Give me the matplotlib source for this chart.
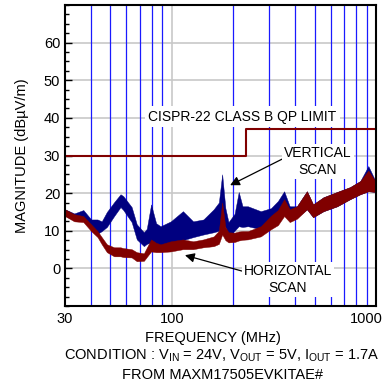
import numpy as np
import matplotlib.pyplot as plt
from matplotlib.ticker import MultipleLocator, FixedLocator, NullFormatter
from matplotlib.transforms import ScaledTranslation

plt.rcParams['font.family'] = ['Liberation Sans', 'DejaVu Sans']
plt.rcParams['font.size'] = 10

# frequency points (MHz), envelope of the noisy traces
freq = [30, 33.3, 36.9, 40.3, 43.3, 45.4, 48.1, 52.2, 56.1, 57.9, 63.6, 67.4,
        73.0, 75.4, 79.2, 83.8, 88.1, 98.9, 113.4, 127.2, 142.8, 160.4, 170,
        176.5, 183, 189.5, 203, 212.7, 222, 236, 272.7, 306, 331, 355, 378,
        410, 459, 492, 553, 645, 747, 837, 917, 1000]

vert_hi = [15.7, 14.6, 15.5, 13, 13, 12.5, 15, 17.6, 19.7, 19.2, 16.3, 11.7,
           9.6, 10.5, 17, 12, 11.2, 12.5, 15.2, 12.5, 13, 15.7, 17.5,
           25, 16, 12.3, 14.5, 20.3, 16.5, 16.5, 15.2, 16, 17.9, 20.5, 16.5,
           16.5, 20.5, 17, 18.9, 20.3, 21.6, 23.2, 27.2, 22.9]
vert_lo = [14, 12.8, 12.5, 11.2, 9.2, 9.9, 11, 13.9, 16.3, 15.5, 12.3, 7.7,
           5.9, 6.5, 6.9, 6.5, 5.9, 6.9, 7.5, 8.3, 9, 9.6, 10,
           12, 11, 8.5, 10, 11.2, 11, 11.2, 10.4, 12, 12.5, 14.5, 13,
           13.5, 15.7, 13.6, 15.2, 16.5, 18.4, 19.7, 20.5, 20.3]

horz_hi = [15.7, 14.4, 13.9, 11.7, 9.9, 8.3, 6.4, 5.6, 5.6, 5.4, 5.1, 4.3,
           4, 5.5, 7.7, 6.8, 6.4, 7.2, 7.7, 7.2, 7.7, 8.5, 10,
           17.5, 11, 9.6, 9.5, 9.8, 9.9, 9.9, 11.2, 14, 15.5, 18.4, 15.7,
           16.5, 20.5, 17, 18.9, 20.3, 21.6, 23.2, 26, 22.9]
horz_lo = [13.9, 12.5, 12.3, 9.9, 8.3, 6.4, 4.3, 3.2, 3.2, 3, 2.9, 1.9,
           2, 3, 4.5, 4.3, 4.3, 4.5, 5.1, 5.1, 5.6, 5.9, 6.5,
           9, 7.5, 6.9, 7, 7.4, 7.6, 7.7, 8.5, 10.4, 11.5, 13.9, 12.3,
           13.2, 15.7, 13.6, 15.2, 16.5, 18.4, 19.7, 20.5, 20.3]

limit_f = [30, 230, 230, 1000]
limit_v = [30, 30, 37, 37]

blue_grid = [40, 50, 60, 70, 80, 90, 200, 300, 400, 500, 600, 700, 800, 900]

navy = '#000080'
maroon = '#800000'

fig = plt.figure(figsize=(3.85, 3.83), dpi=100)
ax = fig.add_axes([65/385, 1-306/383, 311/385, 301/383])
ax.set_xscale('log')
ax.set_xlim(30, 1000)
ax.set_ylim(-10, 70)

# grid
for v in range(0, 70, 10):
    ax.axhline(v, color='#c8c8c8', lw=1.2, zorder=0)
ax.axvline(100, color='#c8c8c8', lw=1.2, zorder=0)
for f in blue_grid:
    ax.axvline(f, color='#1a1aff', lw=0.9, zorder=0.5)

# traces
ax.fill_between(freq, vert_lo, vert_hi, color=navy, lw=0.3, zorder=2)
ax.fill_between(freq, horz_lo, horz_hi, color=maroon, lw=0.3, zorder=3)
ax.plot(limit_f, limit_v, color=maroon, lw=1.5, zorder=4)

box = dict(facecolor='white', edgecolor='none', pad=1.5)
ax.text(222, 40.3, 'CISPR-22 CLASS B QP LIMIT', ha='center', va='center',
        bbox=dict(facecolor='white', edgecolor='none', pad=2.5), zorder=5)
ax.annotate('VERTICAL\nSCAN', xy=(193, 22.1), xytext=(520, 28.5),
            ha='center', va='center', linespacing=1.25, bbox=box, zorder=5,
            arrowprops=dict(arrowstyle='-|>', color='black', lw=0.9,
                            mutation_scale=14, shrinkA=0, shrinkB=0,
                            relpos=(0, 0.6)))
ax.annotate('HORIZONTAL\nSCAN', xy=(116, 3.5), xytext=(371, -2.9),
            ha='center', va='center', linespacing=1.25, bbox=box, zorder=5,
            arrowprops=dict(arrowstyle='-|>', color='black', lw=0.9,
                            mutation_scale=14, shrinkA=0, shrinkB=0,
                            relpos=(0, 0.75)))

# ticks
ax.xaxis.set_major_locator(FixedLocator([30, 100, 1000]))
ax.xaxis.set_minor_locator(FixedLocator([]))
ax.set_xticklabels(['30', '100', '1000'])
ax.xaxis.set_minor_formatter(NullFormatter())
ax.tick_params(axis='x', which='both', length=0, pad=4)
ax.set_yticks([0, 10, 20, 30, 40, 50, 60])
ax.yaxis.set_minor_locator(MultipleLocator(2.5))
ax.tick_params(axis='y', which='major', direction='in', length=5, width=1)
ax.tick_params(axis='y', which='minor', direction='in', length=3, width=1)
ax.tick_params(labelsize=10.5)
last = ax.get_xticklabels()[-1]
last.set_ha('right')
last.set_transform(last.get_transform() + ScaledTranslation(0.07, 0, fig.dpi_scale_trans))

for s in ax.spines.values():
    s.set_linewidth(1.5)
    s.set_zorder(6)

ax.set_ylabel('MAGNITUDE (dBµV/m)', fontsize=10.5)
ax.yaxis.set_label_coords(-0.116, 0.5)
ax.set_xlabel('FREQUENCY (MHz)', fontsize=10.5)
ax.xaxis.set_label_coords(0.476, -0.083)

fig.text(222/385, 1-356/383,
         r'CONDITION : V$_{\mathregular{IN}}$ = 24V, V$_{\mathregular{OUT}}$ = 5V, '
         r'I$_{\mathregular{OUT}}$ = 1.7A', ha='center', va='center', fontsize=10.5)
fig.text(222/385, 1-375/383, 'FROM MAXM17505EVKITAE#', ha='center',
         va='center', fontsize=10.5)

fig.savefig('out.png', dpi=100)
